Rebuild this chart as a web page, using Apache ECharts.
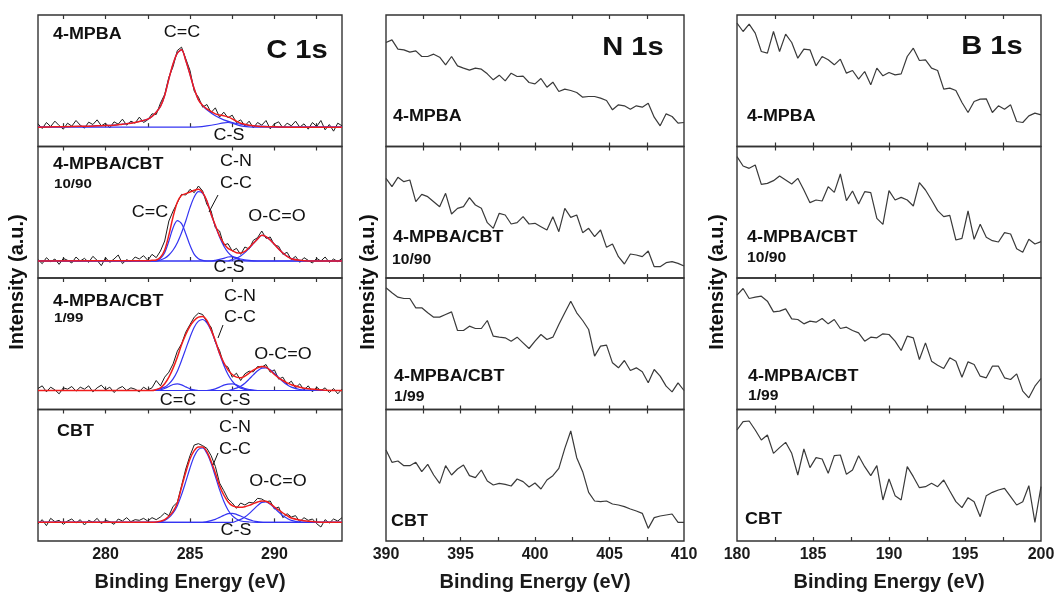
<!DOCTYPE html>
<html><head><meta charset="utf-8">
<script src="https://cdn.jsdelivr.net/npm/echarts@6/dist/echarts.min.js"></script>
<style>html,body{margin:0;padding:0;background:#fff}#chart{width:1056px;height:593px}</style>
</head><body><div id="chart"></div>
<script>
// ---------------- DATA ----------------
// C 1s raw spectra (background-subtracted intensity, a.u.), sampled from 276 eV every 0.25 eV
const cStart = 276, cStep = 0.25;
const c1Raw = [10,-4,14,2,18,5,-6,12, 3,20,6,-3,15,8,22,4, 12,-2,16,9,24,6,18,12,
  30,14,22,40,38,72,98,150, 182,230,240,205,170,108,90,60, 68,44,58,30,45,28,36,14,
  22,4,18,-2,14,6,20,-5, 10,16,-2,12,4,18,0,10, -6,14,2,20,-8,8,-12,12, 4];
const c2Raw = [4,-8,10,-2,6,-10,8,2, -6,12,0,8,-4,14,2,-14, 10,-4,6,18,-8,4,-2,12,
  6,16,2,20,10,30,60,120, 150,175,200,198,215,205,225,210, 170,150,100,90,48,52,30,38,
  20,42,36,62,70,90,68,72, 48,44,20,26,4,14,-4,10, 2,-6,8,0,12,-4,6,-2, 8];
const c3Raw = [6,14,-4,10,2,-10,8,4, 12,-2,10,4,14,-4,8,16, 2,10,-6,6,12,0,8,4,
  -4,10,2,8,30,14,40,55, 80,118,140,175,198,220,232,228, 205,190,145,120,78,70,40,52,
  30,50,58,56,72,70,78,55, 62,34,40,18,28,8,20,2, 14,-4,10,0,8,-6,6,-10, 4];
const c4Raw = [-4,8,-10,12,2,6,-6,4, 10,-2,8,-8,6,0,12,-4, 6,2,-6,10,4,14,2,8,
  6,12,4,14,8,16,28,20, 48,60,110,160,200,232,236,230, 222,200,168,118,95,70,58,42,
  58,52,60,58,72,70,62,64, 40,46,14,26,16,20,2,14, 6,10,-4,-14,8,-2,10,4, 14];

// C 1s fitted curves [eV, intensity]
const c1Env = [[276,0],[277,1],[278,2],[279,3],[279.5,4],[280,5],[280.5,6],[281,9],[281.5,12],[282,17],[282.5,24],[282.75,32],[283,45],[283.25,62],[283.5,95],[283.75,145],[284,190],[284.25,222],[284.5,232],[284.75,200],[285,158],[285.25,115],[285.5,82],[285.75,65],[286,55],[286.5,40],[287,34],[287.25,31],[287.5,25],[287.75,18],[288,12],[288.5,6],[289,3],[290,1],[291,0],[294,0]];
const c1CC = [[276,0],[277,1],[278,2],[279,3],[279.5,4],[280,5],[280.5,6],[281,9],[281.5,12],[282,17],[282.5,24],[282.75,32],[283,45],[283.25,62],[283.5,95],[283.75,145],[284,190],[284.25,222],[284.5,232],[284.75,200],[285,158],[285.25,115],[285.5,82],[285.75,65],[286,52],[286.5,34],[287,22],[287.5,14],[288,9],[288.5,5],[289,3],[290,1],[291,0],[294,0]];
const c1CS = [[276,0],[285,0],[285.5,1],[286,4],[286.5,8],[287,13],[287.25,14],[287.5,12],[288,4],[288.5,1],[289,0],[294,0]];

const c2Env = [[276,0],[282.5,1],[282.75,2],[283,3],[283.25,11],[283.5,33],[283.75,78],[284,133],[284.25,176],[284.5,197],[284.75,202],[285,207],[285.25,212],[285.5,215],[285.75,205],[286,180],[286.25,140],[286.5,107],[286.75,75],[287,53],[287.25,38],[287.5,31],[287.75,25],[288,24],[288.25,29],[288.5,40],[288.75,53],[289,66],[289.25,77],[289.5,73],[289.75,63],[290,50],[290.25,36],[290.5,24],[290.75,14],[291,7],[291.5,2],[292,0],[294,0]];
const c2CC = [[276,0],[283,0],[283.25,8],[283.5,25],[283.75,60],[284,100],[284.25,121],[284.5,112],[284.75,82],[285,47],[285.25,20],[285.5,7],[285.75,2],[286,0],[294,0]];
const c2CN = [[276,0],[283,0],[283.25,3],[283.5,8],[283.75,18],[284,33],[284.25,55],[284.5,85],[284.75,120],[285,160],[285.25,192],[285.5,208],[285.75,203],[286,180],[286.25,140],[286.5,105],[286.75,72],[287,45],[287.25,26],[287.5,14],[287.75,7],[288,3],[288.5,0],[294,0]];
const c2CS = [[276,0],[286.25,0],[286.5,2],[287,8],[287.25,12],[287.5,13],[287.75,10],[288,6],[288.5,2],[289,0],[294,0]];
const c2OCO = [[276,0],[287.25,0],[287.5,4],[287.75,8],[288,15],[288.25,25],[288.5,38],[288.75,52],[289,66],[289.25,77],[289.5,73],[289.75,63],[290,50],[290.25,36],[290.5,24],[290.75,14],[291,7],[291.5,2],[292,0],[294,0]];

const c3Env = [[276,0],[282.75,0],[283,3],[283.25,8],[283.5,20],[283.75,40],[284,67],[284.25,100],[284.5,137],[284.75,168],[285,193],[285.25,210],[285.5,220],[285.75,222],[286,210],[286.25,182],[286.5,150],[286.75,112],[287,84],[287.25,62],[287.5,48],[287.75,40],[288,38],[288.25,43],[288.5,52],[288.75,61],[289,68],[289.25,72],[289.5,70],[289.75,60],[290,48],[290.25,38],[290.5,30],[290.75,23],[291,17],[291.5,10],[292,5],[292.5,3],[293,1],[294,0]];
const c3CC = [[276,0],[283,0],[283.25,2],[283.5,6],[283.75,12],[284,18],[284.25,20],[284.5,17],[284.75,11],[285,5],[285.25,2],[285.5,0],[294,0]];
const c3CN = [[276,0],[282.75,0],[283,2],[283.5,10],[283.75,20],[284,35],[284.25,58],[284.5,90],[284.75,125],[285,160],[285.25,190],[285.5,208],[285.75,213],[286,203],[286.25,180],[286.5,147],[286.75,110],[287,76],[287.25,48],[287.5,28],[287.75,15],[288,7],[288.5,1],[289,0],[294,0]];
const c3CS = [[276,0],[286,0],[286.25,2],[286.5,5],[286.75,10],[287,16],[287.25,19],[287.5,20],[287.75,17],[288,11],[288.25,6],[288.5,3],[289,0],[294,0]];
const c3OCO = [[276,0],[287.25,0],[287.5,3],[287.75,7],[288,13],[288.25,22],[288.5,34],[288.75,47],[289,59],[289.25,67],[289.5,68],[289.75,62],[290,51],[290.25,39],[290.5,27],[290.75,17],[291,10],[291.5,3],[292,1],[292.5,0],[294,0]];

const c4Env = [[276,0],[282.75,0],[283,1],[283.25,3],[283.5,8],[283.75,18],[284,33],[284.25,58],[284.5,105],[284.75,150],[285,190],[285.25,215],[285.5,226],[285.75,226],[286,212],[286.25,183],[286.5,148],[286.75,110],[287,82],[287.25,62],[287.5,50],[287.75,46],[288,45],[288.25,47],[288.5,51],[288.75,56],[289,61],[289.25,64],[289.5,63],[289.75,56],[290,46],[290.25,37],[290.5,28],[290.75,20],[291,13],[291.5,7],[292,3],[292.5,1],[293,0],[294,0]];
const c4CN = [[276,0],[283,0],[283.25,2],[283.5,6],[283.75,14],[284,28],[284.25,50],[284.5,83],[284.75,122],[285,163],[285.25,198],[285.5,219],[285.75,223],[286,207],[286.25,177],[286.5,138],[286.75,98],[287,63],[287.25,37],[287.5,20],[287.75,10],[288,4],[288.5,1],[289,0],[294,0]];
const c4CS = [[276,0],[285.75,0],[286,2],[286.25,5],[286.5,9],[286.75,15],[287,21],[287.25,26],[287.5,27],[287.75,24],[288,19],[288.25,13],[288.5,8],[288.75,4],[289,2],[289.5,0],[294,0]];
const c4OCO = [[276,0],[287.5,0],[287.75,4],[288,9],[288.25,16],[288.5,26],[288.75,38],[289,50],[289.25,60],[289.5,61],[289.75,54],[290,43],[290.25,31],[290.5,20],[290.75,12],[291,6],[291.5,1],[292,0],[294,0]];

// N 1s spectra, from 390 eV every 0.4 eV
const nStart = 390, nStep = 0.4;
const nMPBA = [312,320,292,290,283,287,270,270,277,268,245,270,242,235,229,235,232,218,200,214,197,220,210,211,192,188,204,178,193,165,172,168,162,148,150,150,145,138,110,125,122,112,122,118,130,88,62,98,90,70,72];
const n1090 = [299,274,302,289,294,229,251,244,229,214,254,192,209,214,241,219,209,166,149,194,189,162,166,184,162,164,154,144,184,139,209,182,189,136,149,124,144,92,102,64,42,72,69,64,81,34,34,46,49,44,36];
const n199 = [365,350,337,333,333,305,305,290,277,277,285,293,237,237,250,243,243,267,220,217,215,205,217,200,183,205,225,210,217,255,290,325,290,267,240,160,190,193,140,125,147,117,125,113,80,120,100,70,53,80,57];
const nCBT = [273,236,240,226,226,236,208,230,198,173,226,198,216,228,196,190,213,180,168,173,170,165,186,178,162,174,156,183,196,218,278,330,250,208,146,120,118,120,111,108,103,96,90,83,38,70,75,78,81,56,56];

// B 1s spectra, from 180 eV every 0.4 eV
const bStart = 180, bStep = 0.4;
const bMPBA = [370,345,367,340,285,280,345,285,337,312,265,292,290,242,270,260,245,262,220,228,202,225,185,235,212,222,215,218,270,295,258,260,235,228,172,175,168,132,102,135,142,143,102,122,112,125,75,72,92,100,95];
const b1090 = [364,336,329,339,281,284,292,306,294,282,299,264,226,234,231,274,257,312,232,261,222,259,256,179,161,262,234,242,234,216,286,264,234,202,184,188,114,119,201,116,161,122,112,108,136,132,88,77,116,102,109];
const b199 = [343,363,333,337,340,325,293,295,302,272,270,257,265,262,273,257,270,243,247,237,230,205,217,215,227,225,205,177,220,215,150,200,145,133,123,155,145,97,143,135,100,95,130,130,95,90,107,55,35,70,93];
const bCBT = [333,358,360,333,303,318,263,280,296,263,198,276,220,250,246,203,256,258,200,213,256,223,196,226,123,186,136,123,223,193,160,163,173,163,183,150,118,100,130,118,73,136,146,153,158,133,108,118,166,56,163];

// Axis ticks / labels
const cTicks = [277.5,280,282.5,285,287.5,290,292.5], cLabels = [280,285,290];
const nTicks = [392.5,395,397.5,400,402.5,405,407.5], nLabels = [390,395,400,405,410];
const bTicks = [182.5,185,187.5,190,192.5,195,197.5], bLabels = [180,185,190,195,200];

// ---------------- CHART ----------------
const FONT = '"Liberation Sans", Arial, Helvetica, sans-serif';
const chart = echarts.init(document.getElementById('chart'), null, {renderer: 'canvas'});
const rowTop = 15, rowH = 131.5, yRange = 394.5;
const cols = [
  {left: 38, width: 304, min: 276, max: 294, ticks: cTicks, labels: cLabels, yMin: [-58, -51, -57, -56]},
  {left: 386, width: 298, min: 390, max: 410, ticks: nTicks, labels: nLabels, yMin: [0, 0, 0, 0]},
  {left: 737, width: 304, min: 180, max: 200, ticks: bTicks, labels: bLabels, yMin: [0, 0, 0, 0]}
];
const grid = [], xAxis = [], yAxis = [], series = [];
cols.forEach((col, c) => {
  for (let r = 0; r < 4; r++) {
    const g = c * 4 + r;
    grid.push({left: col.left, top: rowTop + r * rowH, width: col.width, height: rowH,
      show: true, borderColor: '#333', borderWidth: 1.4, backgroundColor: 'transparent',
      containLabel: false, outerBoundsMode: 'none'});
    const tick = {show: true, inside: true, length: 4, customValues: col.ticks, lineStyle: {color: '#333', width: 1.2}};
    xAxis.push({gridIndex: g, type: 'value', position: 'bottom', min: col.min, max: col.max,
      axisLine: {show: false}, splitLine: {show: false}, axisTick: tick,
      axisLabel: r === 3 ? {show: true, customValues: col.labels, fontSize: 16, fontWeight: 'bold', color: '#1a1a1a', fontFamily: FONT, margin: 6} : {show: false},
      name: r === 3 ? 'Binding Energy (eV)' : '', nameLocation: 'middle', nameGap: 31,
      nameTextStyle: {fontSize: 20, fontWeight: 'bold', color: '#1a1a1a', fontFamily: FONT}});
    xAxis.push({gridIndex: g, type: 'value', position: 'top', min: col.min, max: col.max,
      axisLine: {show: false}, splitLine: {show: false}, axisTick: tick, axisLabel: {show: false}});
    yAxis.push({gridIndex: g, type: 'value', min: col.yMin[r], max: col.yMin[r] + yRange, show: false,
      splitLine: {show: false}, axisLine: {show: false}, axisTick: {show: false}, axisLabel: {show: false}});
  }
});

function line(g, data, color, width, smooth, z) {
  return {type: 'line', xAxisIndex: 2 * g, yAxisIndex: g, data: data, showSymbol: false, symbol: 'none',
    smooth: smooth, lineStyle: {color: color, width: width}, z: z, silent: true, animation: false};
}
const RAW = '#1c1c1c', BLUE = '#3434f2', RED = '#f01c1c', GREY = '#3a3a3a';
const cRaw = [c1Raw, c2Raw, c3Raw, c4Raw];
const cEnv = [c1Env, c2Env, c3Env, c4Env];
const cComp = [[c1CC, c1CS], [c2CC, c2CN, c2CS, c2OCO], [c3CC, c3CN, c3CS, c3OCO], [c4CN, c4CS, c4OCO]];
for (let r = 0; r < 4; r++) {
  series.push(line(r, cRaw[r].map((v, i) => [cStart + i * cStep, v]), RAW, 1, false, 2));
  cComp[r].forEach(d => series.push(line(r, d, BLUE, 1.2, 0.3, 3)));
  series.push(line(r, cEnv[r], RED, 1.5, 0.3, 4));
}
[nMPBA, n1090, n199, nCBT].forEach((d, r) =>
  series.push(line(4 + r, d.map((v, i) => [nStart + i * nStep, v]), GREY, 1.2, false, 2)));
[bMPBA, b1090, b199, bCBT].forEach((d, r) =>
  series.push(line(8 + r, d.map((v, i) => [bStart + i * bStep, v]), GREY, 1.2, false, 2)));

// ---------------- ANNOTATIONS ----------------
function T(x, y, text, size, bold, align, extra) {
  return Object.assign({type: 'text', x: x, y: y, scaleX: 1.12, silent: true, z: 100,
    style: {text: text, fontSize: size, fontWeight: bold ? 'bold' : 'normal', fontFamily: FONT,
      fill: '#111', align: align, verticalAlign: 'middle', textAlign: align, textVerticalAlign: 'middle'}}, extra || {});
}
function L(x1, y1, x2, y2) {
  return {type: 'line', silent: true, z: 100, shape: {x1: x1, y1: y1, x2: x2, y2: y2}, style: {stroke: '#111', lineWidth: 1}};
}
const graphic = [
  // titles
  T(297, 51, 'C 1s', 26, true, 'center'),
  T(633, 48, 'N 1s', 26, true, 'center'),
  T(992, 47, 'B 1s', 26, true, 'center'),
  // y axis names
  T(17, 282, 'Intensity (a.u.)', 20, true, 'center', {rotation: Math.PI / 2, scaleX: 1}),
  T(368, 282, 'Intensity (a.u.)', 20, true, 'center', {rotation: Math.PI / 2, scaleX: 1}),
  T(717, 282, 'Intensity (a.u.)', 20, true, 'center', {rotation: Math.PI / 2, scaleX: 1}),
  // C 1s sample labels
  T(53, 35, '4-MPBA', 16, true, 'left'),
  T(53, 165, '4-MPBA/CBT', 16, true, 'left'),
  T(54, 184, '10/90', 13.5, true, 'left'),
  T(53, 302, '4-MPBA/CBT', 16, true, 'left'),
  T(54, 318, '1/99', 13.5, true, 'left'),
  T(57, 432, 'CBT', 16, true, 'left'),
  // C 1s peak labels
  T(182, 33, 'C=C', 16, false, 'center'),
  T(229, 136, 'C-S', 16, false, 'center'),
  T(236, 162, 'C-N', 16, false, 'center'),
  T(236, 184, 'C-C', 16, false, 'center'),
  L(218, 195, 209, 212),
  T(150, 213, 'C=C', 16, false, 'center'),
  T(277, 217, 'O-C=O', 16, false, 'center'),
  T(229, 268, 'C-S', 16, false, 'center'),
  T(240, 297, 'C-N', 16, false, 'center'),
  T(240, 318, 'C-C', 16, false, 'center'),
  L(223, 325, 218, 338),
  T(283, 355, 'O-C=O', 16, false, 'center'),
  T(178, 401, 'C=C', 16, false, 'center'),
  T(235, 401, 'C-S', 16, false, 'center'),
  T(235, 428, 'C-N', 16, false, 'center'),
  T(235, 450, 'C-C', 16, false, 'center'),
  L(218, 453, 213, 465),
  T(278, 482, 'O-C=O', 16, false, 'center'),
  T(236, 531, 'C-S', 16, false, 'center'),
  // N 1s sample labels
  T(393, 117, '4-MPBA', 16, true, 'left'),
  T(393, 238, '4-MPBA/CBT', 16, true, 'left'),
  T(392, 260, '10/90', 14, true, 'left'),
  T(394, 377, '4-MPBA/CBT', 16, true, 'left'),
  T(394, 397, '1/99', 14, true, 'left'),
  T(391, 522, 'CBT', 16, true, 'left'),
  // B 1s sample labels
  T(747, 117, '4-MPBA', 16, true, 'left'),
  T(747, 238, '4-MPBA/CBT', 16, true, 'left'),
  T(747, 258, '10/90', 14, true, 'left'),
  T(748, 377, '4-MPBA/CBT', 16, true, 'left'),
  T(748, 396, '1/99', 14, true, 'left'),
  T(745, 520, 'CBT', 16, true, 'left')
];

chart.setOption({
  animation: false,
  backgroundColor: '#fff',
  grid: grid, xAxis: xAxis, yAxis: yAxis, series: series, graphic: graphic
});
</script></body></html>
